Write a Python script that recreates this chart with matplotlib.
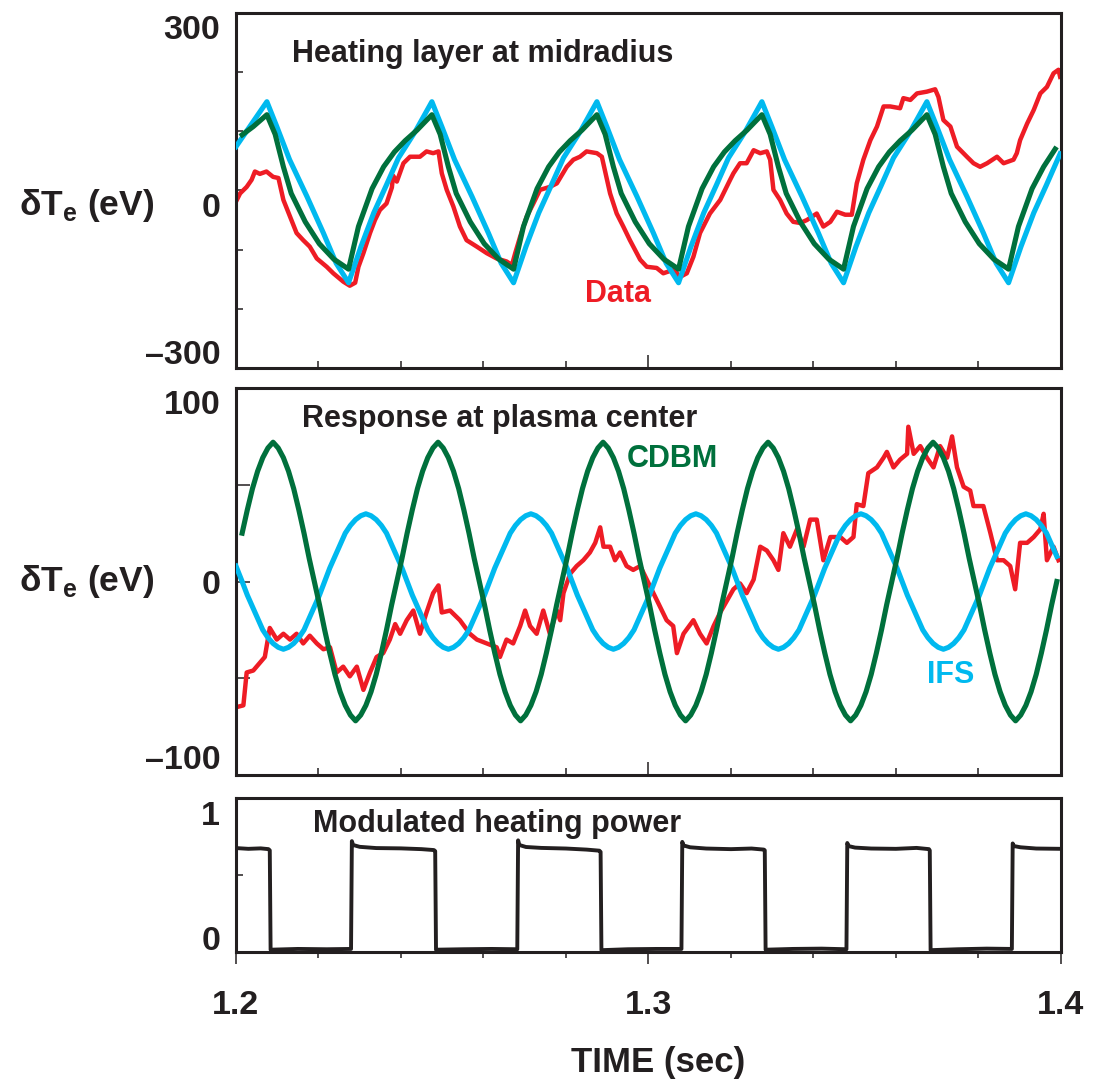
import matplotlib
matplotlib.use("Agg")
import matplotlib.pyplot as plt
from matplotlib.ticker import FixedLocator, MultipleLocator

# ---- data ----
# top panel: heating layer at midradius (dTe, eV)
data_top_t = [
    1.2000, 1.2010, 1.2026, 1.2038, 1.2046, 1.2058, 1.2074, 1.2090, 1.2103, 1.2115,
    1.2131, 1.2147, 1.2163, 1.2179, 1.2196, 1.2220, 1.2236, 1.2260, 1.2276, 1.2289,
    1.2297, 1.2309, 1.2325, 1.2337, 1.2349, 1.2365, 1.2378, 1.2381, 1.2390, 1.2406,
    1.2422, 1.2446, 1.2462, 1.2478, 1.2491, 1.2499, 1.2511, 1.2527, 1.2543, 1.2559,
    1.2584, 1.2608, 1.2632, 1.2656, 1.2669, 1.2677, 1.2689, 1.2705, 1.2721, 1.2737,
    1.2761, 1.2778, 1.2802, 1.2818, 1.2834, 1.2850, 1.2875, 1.2887, 1.2907, 1.2923,
    1.2939, 1.2955, 1.2980, 1.2996, 1.3020, 1.3036, 1.3061, 1.3077, 1.3093, 1.3109,
    1.3125, 1.3149, 1.3174, 1.3198, 1.3206, 1.3222, 1.3238, 1.3255, 1.3271, 1.3287,
    1.3295, 1.3303, 1.3319, 1.3335, 1.3351, 1.3368, 1.3384, 1.3408, 1.3424, 1.3441,
    1.3457, 1.3477, 1.3493, 1.3505, 1.3521, 1.3538, 1.3554, 1.3570, 1.3586, 1.3610,
    1.3618, 1.3635, 1.3651, 1.3675, 1.3695, 1.3703, 1.3715, 1.3732, 1.3748, 1.3772,
    1.3788, 1.3804, 1.3821, 1.3845, 1.3861, 1.3885, 1.3893, 1.3901, 1.3918, 1.3934,
    1.3950, 1.3966, 1.3982, 1.3994, 1.3998,
]
data_top_v = [
    -19, -5, 6, 18, 32, 28, 32, 23, 21, -16,
    -44, -72, -84, -95, -115, -129, -140, -154, -161, -156,
    -129, -106, -72, -50, -33, -22, 5, 25, 15, 46,
    57, 57, 66, 63, 66, 29, 1, -27, -61, -84,
    -95, -106, -115, -120, -126, -106, -78, -44, -22, 1,
    6, 12, 40, 52, 57, 66, 63, 57, -5, -39,
    -61, -84, -117, -129, -131, -140, -134, -146, -140, -112,
    -72, -39, -16, 18, 29, 46, 46, 68, 63, 66,
    52, 1, -16, -39, -53, -55, -50, -39, -61, -53,
    -36, -41, -41, 12, 52, 85, 108, 142, 142, 139,
    156, 153, 164, 167, 171, 158, 119, 108, 74, 57,
    46, 40, 46, 57, 46, 52, 63, 85, 113, 136,
    164, 175, 198, 204, 192,
]

cdbm_top_t = [
    1.2015, 1.2042, 1.2075,
    1.2095, 1.2115, 1.2134, 1.2168, 1.2202, 1.2237, 1.2273,
    1.2297, 1.2330, 1.2358, 1.2384, 1.2410, 1.2439, 1.2475,
    1.2495, 1.2515, 1.2534, 1.2568, 1.2602, 1.2637, 1.2673,
    1.2697, 1.2730, 1.2758, 1.2784, 1.2810, 1.2839, 1.2875,
    1.2895, 1.2915, 1.2934, 1.2968, 1.3002, 1.3037, 1.3073,
    1.3097, 1.3130, 1.3158, 1.3184, 1.3210, 1.3239, 1.3275,
    1.3295, 1.3315, 1.3334, 1.3368, 1.3402, 1.3437, 1.3473,
    1.3497, 1.3530, 1.3558, 1.3584, 1.3610, 1.3639, 1.3675,
    1.3695, 1.3715, 1.3734, 1.3768, 1.3802, 1.3837, 1.3873,
    1.3897, 1.3930, 1.3958, 1.3986,
]
cdbm_top_v = [
    94, 108, 128,
    95, 40, -5, -53, -90, -116, -133,
    -61, 3, 40, 65, 84, 102, 128,
    95, 40, -5, -53, -90, -116, -133,
    -61, 3, 40, 65, 84, 102, 128,
    95, 40, -5, -53, -90, -116, -133,
    -61, 3, 40, 65, 84, 102, 128,
    95, 40, -5, -53, -90, -116, -133,
    -61, 3, 40, 65, 84, 102, 128,
    95, 40, -5, -53, -90, -116, -133,
    -61, 3, 40, 70,
]

ifs_top_t = [
    1.2000, 1.2075,
    1.2099, 1.2130, 1.2172, 1.2212, 1.2243, 1.2273,
    1.2303, 1.2334, 1.2364, 1.2394, 1.2435, 1.2475,
    1.2499, 1.2530, 1.2572, 1.2612, 1.2643, 1.2673,
    1.2703, 1.2734, 1.2764, 1.2794, 1.2835, 1.2875,
    1.2899, 1.2930, 1.2972, 1.3012, 1.3043, 1.3073,
    1.3103, 1.3134, 1.3164, 1.3194, 1.3235, 1.3275,
    1.3299, 1.3330, 1.3372, 1.3412, 1.3443, 1.3473,
    1.3503, 1.3534, 1.3564, 1.3594, 1.3635, 1.3675,
    1.3699, 1.3730, 1.3772, 1.3812, 1.3843, 1.3873,
    1.3903, 1.3934, 1.3964, 1.3998,
]
ifs_top_v = [
    74, 150,
    108, 52, -10, -72, -123, -156,
    -95, -38, 8, 55, 100, 150,
    108, 52, -10, -72, -123, -156,
    -95, -38, 8, 55, 100, 150,
    108, 52, -10, -72, -123, -156,
    -95, -38, 8, 55, 100, 150,
    108, 52, -10, -72, -123, -156,
    -95, -38, 8, 55, 100, 150,
    108, 52, -10, -72, -123, -156,
    -95, -38, 8, 62,
]

# middle panel: response at plasma center (dTe, eV)
data_mid_t = [
    1.2000, 1.2018, 1.2026, 1.2042, 1.2058, 1.2070, 1.2082, 1.2099, 1.2115, 1.2131,
    1.2147, 1.2163, 1.2179, 1.2196, 1.2212, 1.2228, 1.2244, 1.2260, 1.2276, 1.2293,
    1.2309, 1.2325, 1.2341, 1.2357, 1.2373, 1.2386, 1.2398, 1.2414, 1.2430, 1.2446,
    1.2462, 1.2478, 1.2491, 1.2499, 1.2519, 1.2543, 1.2567, 1.2584, 1.2608, 1.2632,
    1.2640, 1.2656, 1.2672, 1.2689, 1.2701, 1.2713, 1.2729, 1.2745, 1.2761, 1.2778,
    1.2786, 1.2794, 1.2810, 1.2826, 1.2842, 1.2858, 1.2871, 1.2883, 1.2891, 1.2907,
    1.2919, 1.2931, 1.2947, 1.2963, 1.2980, 1.2996, 1.3012, 1.3028, 1.3044, 1.3060,
    1.3069, 1.3085, 1.3109, 1.3125, 1.3141, 1.3158, 1.3174, 1.3190, 1.3206, 1.3222,
    1.3238, 1.3255, 1.3271, 1.3287, 1.3303, 1.3315, 1.3327, 1.3343, 1.3360, 1.3376,
    1.3392, 1.3408, 1.3424, 1.3441, 1.3465, 1.3481, 1.3497, 1.3505, 1.3521, 1.3533,
    1.3554, 1.3570, 1.3578, 1.3594, 1.3610, 1.3627, 1.3630, 1.3643, 1.3659, 1.3675,
    1.3691, 1.3707, 1.3724, 1.3736, 1.3748, 1.3764, 1.3780, 1.3788, 1.3812, 1.3829,
    1.3845, 1.3861, 1.3877, 1.3889, 1.3901, 1.3918, 1.3934, 1.3950, 1.3958, 1.3966,
    1.3982, 1.3994,
]
data_mid_v = [
    -65, -64, -47, -46, -42, -39, -24, -30, -27, -30,
    -27, -32, -28, -32, -35, -34, -47, -44, -49, -44,
    -56, -47, -39, -37, -30, -22, -27, -20, -15, -27,
    -16, -6, -2, -16, -15, -20, -27, -30, -32, -34,
    -39, -30, -32, -23, -15, -23, -27, -15, -27, -15,
    -20, -6, 4, 8, 11, 15, 20, 28, 18, 18,
    11, 15, 8, 6, 8, 1, -6, -13, -20, -23,
    -37, -27, -20, -27, -32, -23, -16, -10, -4, -1,
    -6, 1, 18, 16, 11, 6, 25, 18, 27, 18,
    32, 32, 11, 23, 23, 20, 23, 40, 39, 56,
    59, 64, 67, 59, 63, 66, 80, 66, 70, 64,
    59, 70, 64, 75, 59, 49, 47, 39, 39, 25,
    11, 11, 8, -4, 20, 20, 23, 27, 35, 11,
    18, 11,
]

# model curves at the centre, sampled every 1.25 ms
center_t = [
    1.20150, 1.20275, 1.20400, 1.20525, 1.20650, 1.20775, 1.20900, 1.21025,
    1.21150, 1.21275, 1.21400, 1.21525, 1.21650, 1.21775, 1.21900, 1.22025,
    1.22150, 1.22275, 1.22400, 1.22525, 1.22650, 1.22775, 1.22900, 1.23025,
    1.23150, 1.23275, 1.23400, 1.23525, 1.23650, 1.23775, 1.23900, 1.24025,
    1.24150, 1.24275, 1.24400, 1.24525, 1.24650, 1.24775, 1.24900, 1.25025,
    1.25150, 1.25275, 1.25400, 1.25525, 1.25650, 1.25775, 1.25900, 1.26025,
    1.26150, 1.26275, 1.26400, 1.26525, 1.26650, 1.26775, 1.26900, 1.27025,
    1.27150, 1.27275, 1.27400, 1.27525, 1.27650, 1.27775, 1.27900, 1.28025,
    1.28150, 1.28275, 1.28400, 1.28525, 1.28650, 1.28775, 1.28900, 1.29025,
    1.29150, 1.29275, 1.29400, 1.29525, 1.29650, 1.29775, 1.29900, 1.30025,
    1.30150, 1.30275, 1.30400, 1.30525, 1.30650, 1.30775, 1.30900, 1.31025,
    1.31150, 1.31275, 1.31400, 1.31525, 1.31650, 1.31775, 1.31900, 1.32025,
    1.32150, 1.32275, 1.32400, 1.32525, 1.32650, 1.32775, 1.32900, 1.33025,
    1.33150, 1.33275, 1.33400, 1.33525, 1.33650, 1.33775, 1.33900, 1.34025,
    1.34150, 1.34275, 1.34400, 1.34525, 1.34650, 1.34775, 1.34900, 1.35025,
    1.35150, 1.35275, 1.35400, 1.35525, 1.35650, 1.35775, 1.35900, 1.36025,
    1.36150, 1.36275, 1.36400, 1.36525, 1.36650, 1.36775, 1.36900, 1.37025,
    1.37150, 1.37275, 1.37400, 1.37525, 1.37650, 1.37775, 1.37900, 1.38025,
    1.38150, 1.38275, 1.38400, 1.38525, 1.38650, 1.38775, 1.38900, 1.39025,
    1.39150, 1.39275, 1.39400, 1.39525, 1.39650, 1.39775, 1.39900,
]
cdbm_mid_v = [
    25, 37, 48, 57, 64, 69,
    72, 69, 64, 57, 48, 37, 25, 12, 0, -12, -25, -37, -48, -57, -64, -69,
    -72, -69, -64, -57, -48, -37, -25, -12, 0, 12, 25, 37, 48, 57, 64, 69,
    72, 69, 64, 57, 48, 37, 25, 12, 0, -12, -25, -37, -48, -57, -64, -69,
    -72, -69, -64, -57, -48, -37, -25, -12, 0, 12, 25, 37, 48, 57, 64, 69,
    72, 69, 64, 57, 48, 37, 25, 12, 0, -12, -25, -37, -48, -57, -64, -69,
    -72, -69, -64, -57, -48, -37, -25, -12, 0, 12, 25, 37, 48, 57, 64, 69,
    72, 69, 64, 57, 48, 37, 25, 12, 0, -12, -25, -37, -48, -57, -64, -69,
    -72, -69, -64, -57, -48, -37, -25, -12, 0, 12, 25, 37, 48, 57, 64, 69,
    72, 69, 64, 57, 48, 37, 25, 12, 0, -12, -25, -37, -48, -57, -64, -69,
    -72, -69, -64, -57, -48, -37, -25, -12, 0,
]
ifs_mid_t0, ifs_mid_v0 = 1.2000, 8
ifs_mid_v = [
    0, -7, -13, -19, -25, -29, -32, -34,
    -35, -34, -32, -29, -25, -19, -13, -7, 0, 7, 13, 19, 25, 29, 32, 34,
    35, 34, 32, 29, 25, 19, 13, 7, 0, -7, -13, -19, -25, -29, -32, -34,
    -35, -34, -32, -29, -25, -19, -13, -7, 0, 7, 13, 19, 25, 29, 32, 34,
    35, 34, 32, 29, 25, 19, 13, 7, 0, -7, -13, -19, -25, -29, -32, -34,
    -35, -34, -32, -29, -25, -19, -13, -7, 0, 7, 13, 19, 25, 29, 32, 34,
    35, 34, 32, 29, 25, 19, 13, 7, 0, -7, -13, -19, -25, -29, -32, -34,
    -35, -34, -32, -29, -25, -19, -13, -7, 0, 7, 13, 19, 25, 29, 32, 34,
    35, 34, 32, 29, 25, 19, 13, 7, 0, -7, -13, -19, -25, -29, -32, -34,
    -35, -34, -32, -29, -25, -19, -13, -7, 0, 7, 13, 19, 25, 29, 32, 34,
    35, 34, 32, 29, 25, 19, 13,
]

# bottom panel: modulated heating power (normalised)
power_t = [
    1.2000, 1.2030, 1.2060, 1.2079, 1.2082, 1.2084, 1.2150, 1.2220, 1.2279, 1.2281,
    1.2284, 1.2300, 1.2340, 1.2400, 1.2450, 1.2480, 1.2483, 1.2485, 1.2550, 1.2620,
    1.2682, 1.2684, 1.2687, 1.2703, 1.2740, 1.2800, 1.2850, 1.2881, 1.2884, 1.2886,
    1.2950, 1.3020, 1.3080, 1.3082, 1.3085, 1.3101, 1.3140, 1.3200, 1.3250, 1.3280,
    1.3282, 1.3284, 1.3350, 1.3420, 1.3480, 1.3482, 1.3485, 1.3501, 1.3540, 1.3600,
    1.3650, 1.3680, 1.3682, 1.3684, 1.3750, 1.3820, 1.3881, 1.3883, 1.3886, 1.3902,
    1.3940, 1.4000,
]
power_v = [
    0.675, 0.670, 0.673, 0.668, 0.660, 0.015, 0.020, 0.018, 0.020, 0.720,
    0.695, 0.683, 0.675, 0.673, 0.668, 0.662, 0.655, 0.015, 0.018, 0.020,
    0.018, 0.725, 0.695, 0.682, 0.676, 0.672, 0.665, 0.658, 0.650, 0.012,
    0.018, 0.020, 0.020, 0.715, 0.692, 0.680, 0.672, 0.668, 0.672, 0.665,
    0.660, 0.015, 0.020, 0.022, 0.018, 0.708, 0.688, 0.678, 0.672, 0.670,
    0.676, 0.668, 0.660, 0.012, 0.018, 0.022, 0.020, 0.705, 0.688, 0.680,
    0.672, 0.670,
]

RED = "#EE1C25"
CYAN = "#00B9EF"
GREEN = "#00703C"
INK = "#231F20"

plt.rcParams["font.family"] = ["Liberation Sans", "DejaVu Sans"]
plt.rcParams["font.weight"] = "bold"


def frame(ax, ylim, yticks, ylen):
    ax.set_xlim(1.2, 1.4)
    ax.set_ylim(*ylim)
    for s in ax.spines.values():
        s.set_linewidth(2.2)
        s.set_color(INK)
    ax.xaxis.set_major_locator(FixedLocator([1.2, 1.3, 1.4]))
    ax.xaxis.set_minor_locator(MultipleLocator(0.02))
    ax.yaxis.set_major_locator(FixedLocator(yticks))
    ax.tick_params(axis="x", which="major", direction="in", length=9.5, width=1.1,
                   color=INK, labelbottom=False)
    ax.tick_params(axis="x", which="minor", direction="in", length=5, width=1.1, color=INK)
    ax.tick_params(axis="y", direction="in", length=ylen, width=1.1, color=INK,
                   labelleft=False)


def ylabels(ax, pairs, size=24.5):
    for val, txt in pairs:
        ax.text(-0.019, val, txt, transform=ax.get_yaxis_transform(), ha="right",
                va="center_baseline", fontsize=size, fontweight="bold", color=INK)


fig = plt.figure(figsize=(11, 10.8), dpi=100)
fig.patch.set_facecolor("white")

ax1 = fig.add_axes([0.2145, 0.6593, 0.750, 0.3287])
ax2 = fig.add_axes([0.2145, 0.2824, 0.750, 0.3583])
ax3 = fig.add_axes([0.2145, 0.1185, 0.750, 0.1426])

# top panel
frame(ax1, (-300, 300), [-300, -200, -100, 0, 100, 200, 300], 5)
ax1.plot(data_top_t, data_top_v, color=RED, lw=3.2, zorder=2)
ax1.plot(ifs_top_t, ifs_top_v, color=CYAN, lw=3.7, zorder=3)
ax1.plot(cdbm_top_t, cdbm_top_v, color=GREEN, lw=3.7, zorder=4)
ylabels(ax1, [(276, "300"), (-24, "0"), (-273, "\u2013300")])
ax1.text(0.068, 0.862, "Heating layer at midradius", transform=ax1.transAxes,
         fontsize=22, color=INK, va="baseline")
ax1.text(0.423, 0.187, "Data", transform=ax1.transAxes, fontsize=22, color=RED,
         va="baseline")

# middle panel
frame(ax2, (-100, 100), [-50, 0, 50], 10)
ax2.plot(data_mid_t, data_mid_v, color=RED, lw=3.2, zorder=2)
ax2.plot([ifs_mid_t0] + center_t, [ifs_mid_v0] + ifs_mid_v, color=CYAN, lw=3.7, zorder=3)
ax2.plot(center_t, cdbm_mid_v, color=GREEN, lw=3.7, zorder=4)
ylabels(ax2, [(93, "100"), (0, "0"), (-90.5, "\u2013100")])
ax2.text(0.0796, 0.900, "Response at plasma center", transform=ax2.transAxes,
         fontsize=22, color=INK, va="baseline")
ax2.text(0.4736, 0.797, "CDBM", transform=ax2.transAxes, fontsize=22, color=GREEN,
         va="baseline")
ax2.text(0.8372, 0.237, "IFS", transform=ax2.transAxes, fontsize=22, color=CYAN,
         va="baseline")

# bottom panel
frame(ax3, (0, 1), [0.5], 5)
ax3.plot(power_t, power_v, color=INK, lw=2.8, zorder=3)
ax3.tick_params(axis="x", which="major", direction="out", length=8.6, width=1.1,
                labelbottom=True, labelsize=24.5, pad=19)
ax3.tick_params(axis="x", which="minor", direction="out", length=4, width=1.1)
ax3.set_xticklabels(["1.2", "1.3", "1.4"], fontweight="bold", color=INK)
ylabels(ax3, [(0.90, "1"), (0.09, "0")])
ax3.text(0.0937, 0.781, "Modulated heating power", transform=ax3.transAxes,
         fontsize=22, color=INK, va="baseline")

# axis titles
for ypos in (0.814, 0.4653):
    fig.text(0.017, ypos, "\u03b4T$_\\mathregular{e}$ (eV)", fontsize=25.5,
             fontweight="bold", color=INK, ha="left", va="center_baseline")
fig.text(0.598, 0.0077, "TIME (sec)", fontsize=25, fontweight="bold", color=INK,
         ha="center", va="baseline")

fig.savefig("out.png", dpi=100, facecolor="white")
